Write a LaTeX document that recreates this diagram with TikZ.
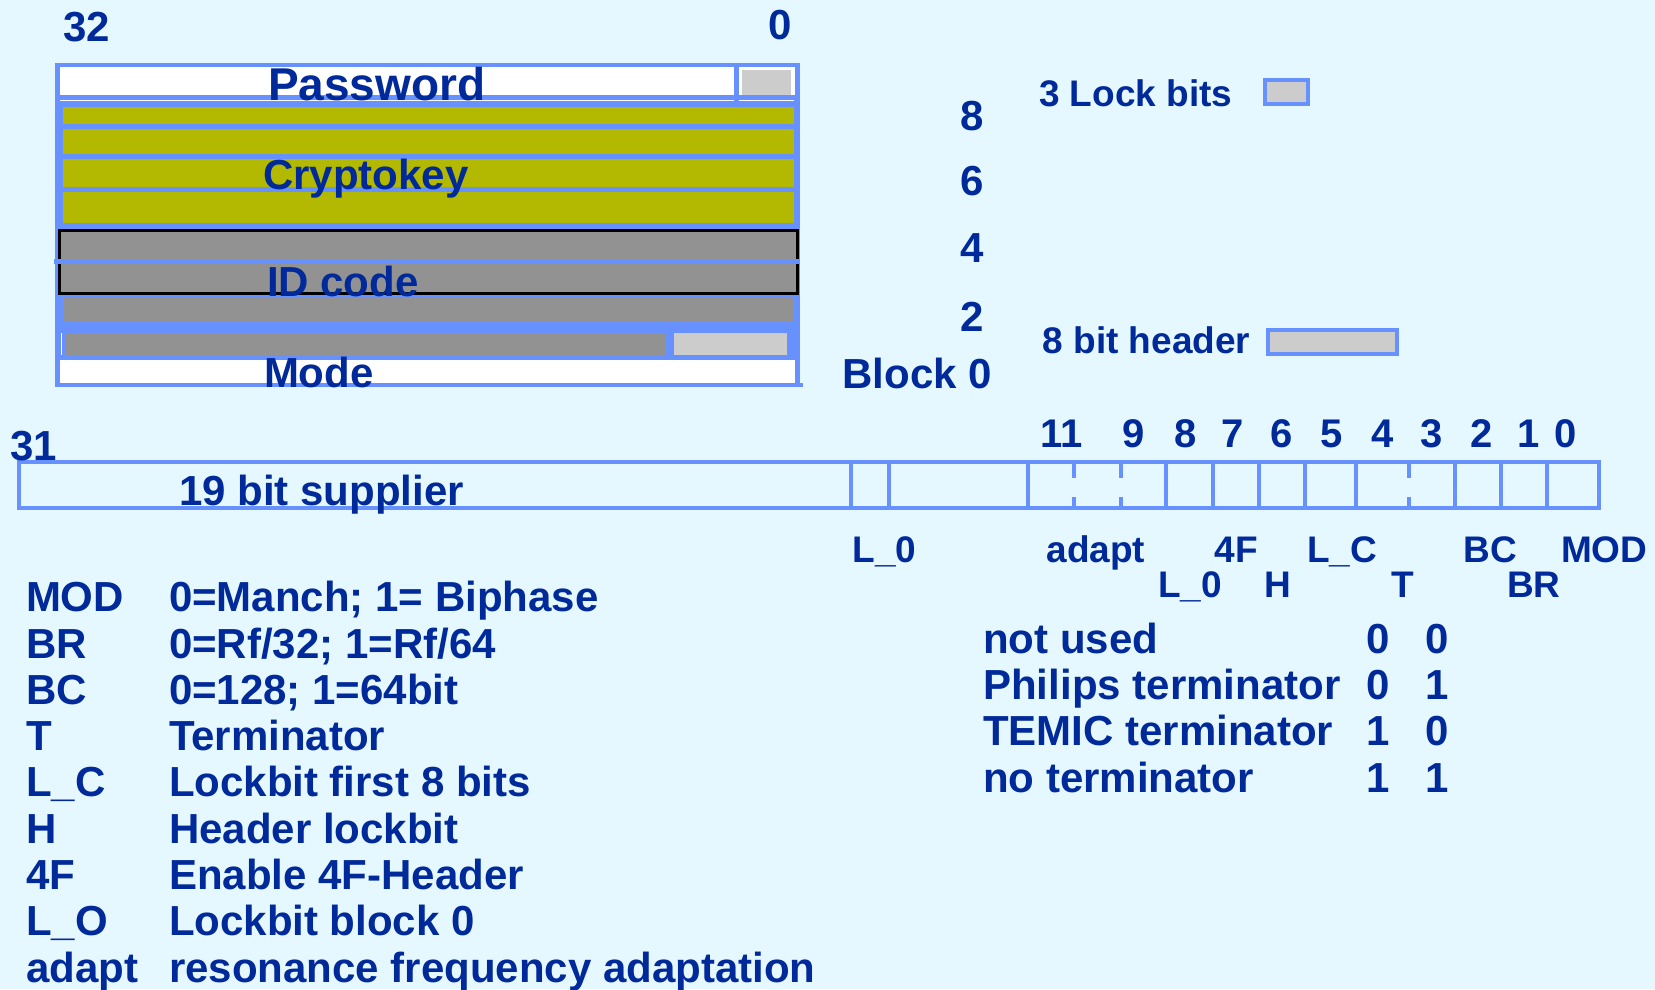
\documentclass[tikz,border=0pt]{standalone}
\usepackage{fontspec}
\setmainfont{Liberation Sans}
\definecolor{bg}{RGB}{230,248,255}
\definecolor{navy}{RGB}{0,41,153}
\definecolor{lblue}{RGB}{102,145,255}
\definecolor{olive}{RGB}{179,184,0}
\definecolor{midgray}{RGB}{146,146,146}
\definecolor{ltgray}{RGB}{204,204,204}
\tikzset{
  txt/.style={inner sep=0pt, outer sep=0pt, text=navy, font=\bfseries\fontsize{42}{50}\selectfont},
  big/.style={txt, font=\bfseries\fontsize{46}{54}\selectfont},
  sml/.style={txt, font=\bfseries\fontsize{37}{44}\selectfont},
  reg/.style={txt, font=\bfseries\fontsize{40}{48}\selectfont},
  bl/.style={draw=lblue, line width=4pt},
  keybox/.style={fill=ltgray, draw=lblue, line width=4pt},
}
\begin{document}
\begin{tikzpicture}[x=1pt,y=-1pt]
\fill[bg] (0,0) rectangle (1655,989);
\useasboundingbox (0,0) rectangle (1655,989);

% ---------- memory block ----------
\fill[lblue] (55,63) rectangle (800,387);
\fill[white] (60,67) rectangle (734,95);
\fill[white] (739,67) rectangle (795,95);
\fill[ltgray] (742,70) rectangle (791,95);
\draw[white, line width=1pt] (60,100.5) -- (734,100.5) (739,100.5) -- (794,100.5);
\fill[olive] (62.7,107) rectangle (794,124);
\fill[olive] (62.7,129) rectangle (794,154);
\fill[olive] (62.7,159) rectangle (794,187);
\fill[olive] (62.7,192) rectangle (794,223);
\filldraw[fill=midgray, draw=black, line width=3pt] (59,230.5) rectangle (797.5,293.5);
\draw[lblue, line width=5pt] (54,261.5) -- (800,261.5);
\fill[midgray] (62.7,298) rectangle (794,322);
\fill[midgray] (66,333) rectangle (666,355);
\fill[ltgray] (674,333) rectangle (787,355);
\draw[white, line width=1pt] (61,333) -- (61,355);
\fill[white] (60,360) rectangle (795,383);
\draw[lblue, line width=4pt] (795,385) -- (803,385);

\node[txt, anchor=base] (n32) at (86.5,41.7) {32};
\node[txt, anchor=base] (n0) at (780,39) {0};
\node[big, anchor=base west] (pw) at (268,100) {Password};
\node[txt, anchor=base west] (ck) at (263,189) {Cryptokey};
\node[txt, anchor=base west] (idc) at (267,296) {ID code};
\node[txt, anchor=base west] (mode) at (264,387) {Mode};

\node[txt, anchor=base] (b8) at (972,130) {8};
\node[txt, anchor=base] (b6) at (972,195) {6};
\node[txt, anchor=base] (b4) at (972,262) {4};
\node[txt, anchor=base] (b2) at (972,331) {2};
\node[txt, anchor=base east] (blk) at (992,388) {Block 0};

\node[sml, anchor=base west] (lock) at (1039,106) {3 Lock bits};
\filldraw[keybox] (1265,80) rectangle (1308,104);
\node[sml, anchor=base west] (hdr) at (1042.6,353) {8 bit header};
\filldraw[keybox] (1268,330) rectangle (1397,354);

% ---------- register ----------
\draw[bl] (19,462) rectangle (1599,508);
\foreach \x in {850.5,889,1028,1166,1212.5,1259,1305,1356,1455,1501,1547}
  \draw[bl] (\x,462) -- (\x,508);
\foreach \x in {1074,1120.5,1408.5}
  \draw[bl] (\x,462) -- (\x,478) (\x,497) -- (\x,508);

\node[txt, anchor=base] (r31) at (34,460) {31};
\node[txt, anchor=base west] (sup) at (179,505) {19 bit supplier};
\foreach \n/\x in {11/1061.5, 9/1134, 8/1186, 7/1232.5, 6/1282, 5/1331.5, 4/1382.5, 3/1431.5, 2/1481.5, 1/1529, 0/1566}
  \node[reg, anchor=base] (bit\n) at (\x,447) {\n};

\node[sml, anchor=base west] (la) at (852.5,562) {L\_0};
\node[sml, anchor=base west] (lb) at (1046.6,562) {adapt};
\node[sml, anchor=base west] (lc) at (1214.5,562) {4F};
\node[sml, anchor=base west] (ld) at (1158,597) {L\_0};
\node[sml, anchor=base west] (le) at (1264.8,597) {H};
\node[sml, anchor=base west] (lf) at (1307,562) {L\_C};
\node[sml, anchor=base west] (lg) at (1391.6,597) {T};
\node[sml, anchor=base west] (lh) at (1463.5,562) {BC};
\node[sml, anchor=base west] (li) at (1507,597) {BR};
\node[sml, anchor=base west] (lj) at (1561,562) {MOD};

% ---------- legend ----------
\foreach \i/\a/\b in {0/MOD/{0=Manch; 1= Biphase}, 1/BR/{0=Rf/32; 1=Rf/64}, 2/BC/{0=128; 1=64bit}, 3/T/Terminator, 4/L\_C/Lockbit first 8 bits, 5/H/Header lockbit, 6/4F/Enable 4F-Header, 7/L\_O/Lockbit block 0, 8/adapt/resonance frequency adaptation} {
  \node[txt, anchor=base west] (ka\i) at (26,611.7+46.3*\i) {\a};
  \node[txt, anchor=base west] (kb\i) at (169,611.7+46.3*\i) {\b};
}

% ---------- terminator table ----------
\foreach \i/\t/\p/\q/\y in {0/not used/0/0/653.3, 1/Philips terminator/0/1/699.3, 2/TEMIC terminator/1/0/745.7, 3/no terminator/1/1/792.7} {
  \node[txt, anchor=base west] (tt\i) at (983.3,\y) {\t};
  \node[txt, anchor=base] (tp\i) at (1378,\y) {\p};
  \node[txt, anchor=base] (tq\i) at (1437,\y) {\q};
}
\end{tikzpicture}
\end{document}
